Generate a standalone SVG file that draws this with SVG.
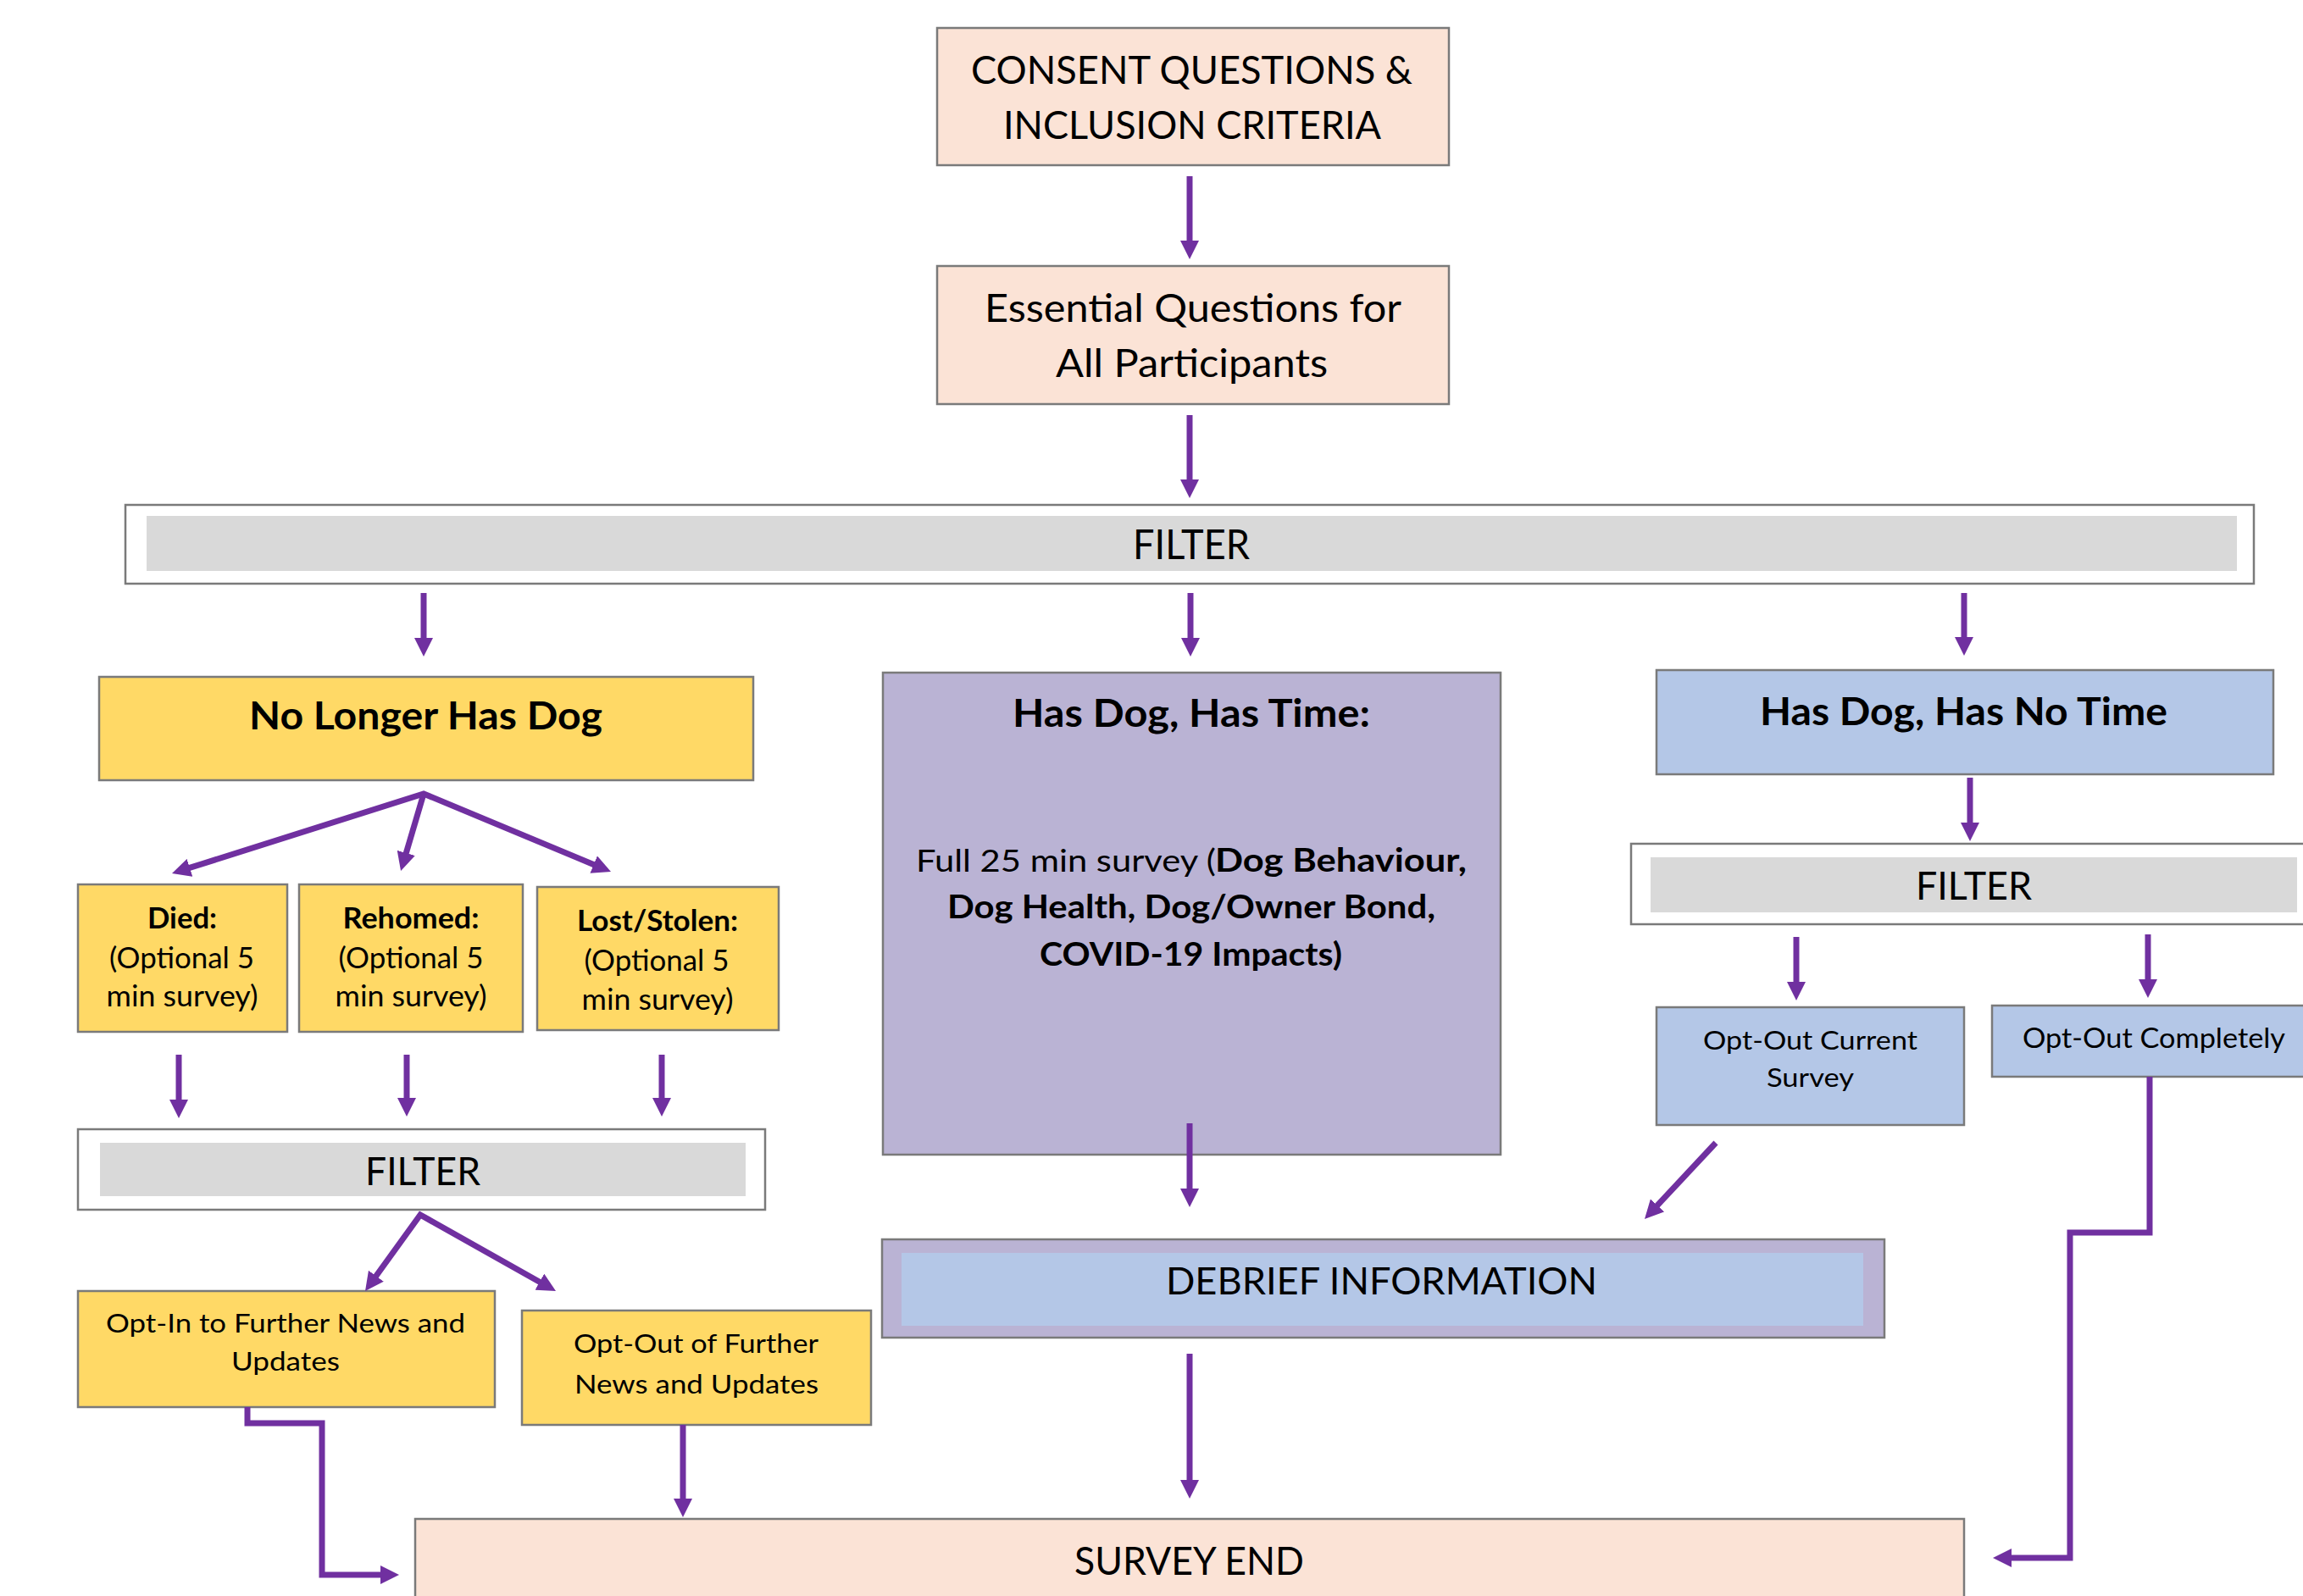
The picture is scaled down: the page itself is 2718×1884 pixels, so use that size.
<svg xmlns="http://www.w3.org/2000/svg" width="2718" height="1884" viewBox="0 0 2718 1884">
<style>
.box{stroke:#7a7a7a;stroke-width:2.5}
.peach{fill:#FBE3D6}
.yellow{fill:#FFD966}
.lav{fill:#BAB3D4}
.blue{fill:#B4C7E7}
.white{fill:#FFFFFF}
.gray{fill:#D9D9D9}
text{font-family:Lato,"Open Sans","Liberation Sans",sans-serif;fill:#000;text-anchor:middle}
.b{font-weight:bold}
.c{stroke:#7030A0;stroke-width:7;fill:none;stroke-linejoin:miter}
</style>
<defs>
<marker id="ah" viewBox="0 0 22 22" markerWidth="22" markerHeight="22" markerUnits="userSpaceOnUse" refX="1" refY="11" orient="auto-start-reverse">
<path d="M0,0 L22,11 L0,22 z" fill="#7030A0"/>
</marker>
</defs>
<rect width="2718" height="1884" fill="#FFFFFF"/>

<g id="consent">
<rect class="box peach" x="1106" y="33" width="604" height="162"/>
<text x="1406.5" y="99" font-size="47" textLength="521" lengthAdjust="spacingAndGlyphs">CONSENT QUESTIONS &amp;</text>
<text x="1407" y="164" font-size="47" textLength="446" lengthAdjust="spacingAndGlyphs">INCLUSION CRITERIA</text>
</g>

<g id="essential">
<rect class="box peach" x="1106" y="314" width="604" height="163"/>
<text x="1408" y="380" font-size="47" textLength="492" lengthAdjust="spacingAndGlyphs">Essential Questions for</text>
<text x="1406.5" y="445" font-size="47" textLength="321" lengthAdjust="spacingAndGlyphs">All Participants</text>
</g>

<g id="filter-main">
<rect class="box white" x="148" y="596" width="2512" height="93"/>
<rect class="gray" x="173" y="609" width="2467" height="65"/>
<text x="1406" y="660" font-size="48" textLength="138" lengthAdjust="spacingAndGlyphs">FILTER</text>
</g>

<g id="no-longer">
<rect class="box yellow" x="117" y="799" width="772" height="122"/>
<text class="b" x="502.5" y="861" font-size="46" textLength="417" lengthAdjust="spacingAndGlyphs">No Longer Has Dog</text>
</g>

<g id="has-time">
<rect class="box lav" x="1042" y="794" width="729" height="569"/>
<text class="b" x="1406" y="858" font-size="46" textLength="422" lengthAdjust="spacingAndGlyphs">Has Dog, Has Time:</text>
<text x="1258" y="1029" font-size="37.5" textLength="354" lengthAdjust="spacingAndGlyphs">Full 25 min survey (</text>
<text class="b" x="1582.5" y="1029" font-size="37.5" textLength="297" lengthAdjust="spacingAndGlyphs">Dog Behaviour,</text>
<text class="b" x="1406" y="1084" font-size="37.5" textLength="576" lengthAdjust="spacingAndGlyphs">Dog Health, Dog/Owner Bond,</text>
<text class="b" x="1405.5" y="1140" font-size="37.5" textLength="357" lengthAdjust="spacingAndGlyphs">COVID-19 Impacts)</text>
</g>

<g id="no-time">
<rect class="box blue" x="1955" y="791" width="728" height="123"/>
<text class="b" x="2317.5" y="856" font-size="45" textLength="481" lengthAdjust="spacingAndGlyphs">Has Dog, Has No Time</text>
</g>

<g id="filter-right">
<rect class="box white" x="1925" y="996" width="810" height="95"/>
<rect class="gray" x="1948" y="1012" width="763" height="65"/>
<text x="2329.5" y="1062" font-size="46" textLength="137" lengthAdjust="spacingAndGlyphs">FILTER</text>
</g>

<g id="opt-out-current">
<rect class="box blue" x="1955" y="1189" width="363" height="139"/>
<text x="2136.5" y="1239" font-size="31" textLength="253" lengthAdjust="spacingAndGlyphs">Opt-Out Current</text>
<text x="2136.5" y="1283" font-size="31" textLength="103" lengthAdjust="spacingAndGlyphs">Survey</text>
</g>

<g id="opt-out-completely">
<rect class="box blue" x="2351" y="1187" width="380" height="84"/>
<text x="2542" y="1237" font-size="32" textLength="310" lengthAdjust="spacingAndGlyphs">Opt-Out Completely</text>
</g>

<g id="died">
<rect class="box yellow" x="92" y="1044" width="247" height="174"/>
<text class="b" x="215" y="1096" font-size="34" textLength="82" lengthAdjust="spacingAndGlyphs">Died:</text>
<text x="214.5" y="1143" font-size="34" textLength="171" lengthAdjust="spacingAndGlyphs">(Optional 5</text>
<text x="215" y="1188" font-size="34" textLength="179" lengthAdjust="spacingAndGlyphs">min survey)</text>
</g>

<g id="rehomed">
<rect class="box yellow" x="353" y="1044" width="264" height="174"/>
<text class="b" x="485" y="1096" font-size="34" textLength="161" lengthAdjust="spacingAndGlyphs">Rehomed:</text>
<text x="485" y="1143" font-size="34" textLength="171" lengthAdjust="spacingAndGlyphs">(Optional 5</text>
<text x="485" y="1188" font-size="34" textLength="179" lengthAdjust="spacingAndGlyphs">min survey)</text>
</g>

<g id="lost">
<rect class="box yellow" x="634" y="1047" width="285" height="169"/>
<text class="b" x="776" y="1099" font-size="34" textLength="190" lengthAdjust="spacingAndGlyphs">Lost/Stolen:</text>
<text x="775" y="1146" font-size="34" textLength="171" lengthAdjust="spacingAndGlyphs">(Optional 5</text>
<text x="776" y="1192" font-size="34" textLength="179" lengthAdjust="spacingAndGlyphs">min survey)</text>
</g>

<g id="filter-left">
<rect class="box white" x="92" y="1333" width="811" height="95"/>
<rect class="gray" x="118" y="1349" width="762" height="63"/>
<text x="499" y="1399" font-size="46" textLength="136" lengthAdjust="spacingAndGlyphs">FILTER</text>
</g>

<g id="opt-in">
<rect class="box yellow" x="92" y="1524" width="492" height="137"/>
<text x="337" y="1573" font-size="31" textLength="424" lengthAdjust="spacingAndGlyphs">Opt-In to Further News and</text>
<text x="337" y="1618" font-size="31" textLength="128" lengthAdjust="spacingAndGlyphs">Updates</text>
</g>

<g id="opt-out-further">
<rect class="box yellow" x="616" y="1547" width="412" height="135"/>
<text x="821.5" y="1597" font-size="31" textLength="289" lengthAdjust="spacingAndGlyphs">Opt-Out of Further</text>
<text x="822" y="1645" font-size="31" textLength="288" lengthAdjust="spacingAndGlyphs">News and Updates</text>
</g>

<g id="debrief">
<rect class="box lav" x="1041" y="1463" width="1183" height="116"/>
<rect class="blue" x="1064" y="1479" width="1135" height="86"/>
<text x="1630.5" y="1528" font-size="45" textLength="509" lengthAdjust="spacingAndGlyphs">DEBRIEF INFORMATION</text>
</g>

<g id="survey-end">
<rect class="box peach" x="490" y="1793" width="1828" height="110"/>
<text x="1403.5" y="1859" font-size="46" textLength="271" lengthAdjust="spacingAndGlyphs">SURVEY END</text>
</g>

<g id="connectors">
<line class="c" x1="1404" y1="208" x2="1404" y2="285" marker-end="url(#ah)"/>
<line class="c" x1="1404" y1="490" x2="1404" y2="567" marker-end="url(#ah)"/>
<line class="c" x1="500" y1="700" x2="500" y2="754" marker-end="url(#ah)"/>
<line class="c" x1="1405" y1="700" x2="1405" y2="754" marker-end="url(#ah)"/>
<line class="c" x1="2318" y1="700" x2="2318" y2="753" marker-end="url(#ah)"/>
<path class="c" d="M223,1024.7 L500,937 L701.6,1020.9" marker-start="url(#ah)" marker-end="url(#ah)"/>
<line class="c" x1="500" y1="937" x2="479" y2="1007.9" marker-end="url(#ah)"/>
<line class="c" x1="211" y1="1245" x2="211" y2="1299" marker-end="url(#ah)"/>
<line class="c" x1="480" y1="1245" x2="480" y2="1297" marker-end="url(#ah)"/>
<line class="c" x1="781" y1="1245" x2="781" y2="1297" marker-end="url(#ah)"/>
<path class="c" d="M443.3,1507 L496,1434 L637.7,1513.7" marker-start="url(#ah)" marker-end="url(#ah)"/>
<polyline class="c" points="292,1661 292,1680 380,1680 380,1859 450,1859" marker-end="url(#ah)"/>
<line class="c" x1="806" y1="1682" x2="806" y2="1770" marker-end="url(#ah)"/>
<line class="c" x1="2325" y1="918" x2="2325" y2="972" marker-end="url(#ah)"/>
<line class="c" x1="2120" y1="1106" x2="2120" y2="1160" marker-end="url(#ah)"/>
<line class="c" x1="2535" y1="1103" x2="2535" y2="1157" marker-end="url(#ah)"/>
<line class="c" x1="1404" y1="1326" x2="1404" y2="1404" marker-end="url(#ah)"/>
<line class="c" x1="2025" y1="1349" x2="1955.3" y2="1423.6" marker-end="url(#ah)"/>
<line class="c" x1="1404" y1="1598" x2="1404" y2="1748" marker-end="url(#ah)"/>
<polyline class="c" points="2537,1271 2537,1455 2443,1455 2443,1839 2373,1839" marker-end="url(#ah)"/>
</g>
</svg>
